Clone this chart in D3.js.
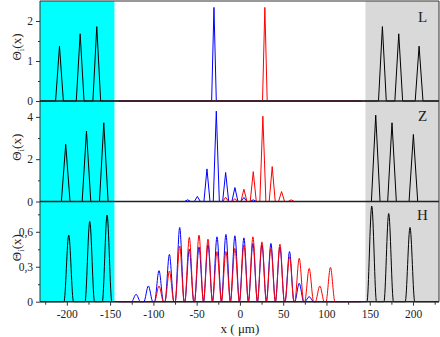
<!DOCTYPE html>
<html lang='en'>
<head>
	<meta charset='UTF-8'/>
	<title>Theta profiles L / Z / H</title>
	<script src='https://cdnjs.cloudflare.com/ajax/libs/d3/7.8.5/d3.min.js'></script>
	<style>
		body {margin: 0; background: #fff;}
		svg {display: block; font-family: 'Liberation Serif', 'Times New Roman', serif;}
	</style>
</head>
<body>
	<div class='graph'></div>
	<script>
		// peak centers (x, um) and heights
		const L_black_x = [-208.5, -184.6, -165.4, 164.6, 183.5, 207];
		const L_black_y = [1.37, 1.68, 1.86, 1.86, 1.68, 1.37];
		const L_blue_x = [-30];
		const L_blue_y = [2.34];
		const L_red_x = [28.8];
		const L_red_y = [2.34];

		const Z_black_x = [-201.3, -177.3, -157.3, 156.9, 175.7, 200.4];
		const Z_black_y = [2.70, 3.33, 3.72, 4.08, 3.72, 3.17];
		const Z_blue_x = [-60.4, -49.2, -38.1, -27.3, -16.5, -5.8, 4.6, 15.4];
		const Z_blue_y = [0.08, 0.24, 1.54, 4.27, 1.37, 0.66, 0.19, 0.08];
		const Z_red_x = [-16.5, -5.8, 4.6, 15.4, 26.5, 37.3, 48.1, 59.2];
		const Z_red_y = [0.2, 0.13, 0.58, 1.41, 4.03, 1.65, 0.47, 0.08];

		const H_black_x = [-197.8, -173.5, -153.5, 152.3, 171.9, 196.5];
		const H_black_y = [0.572, 0.689, 0.743, 0.82, 0.757, 0.637];
		const H_blue_x = [-120, -105.8, -93.5, -81.5, -69.6, -58.5, -47.3, -36.9, -26.5, -16.2,
			-5.8, 4.6, 15, 25.4, 35.8, 46.2, 57.3, 68.5, 80];
		const H_blue_y = [0.063, 0.135, 0.266, 0.406, 0.637, 0.45, 0.47, 0.49, 0.557, 0.577,
			0.566, 0.548, 0.5, 0.49, 0.5, 0.47, 0.43, 0.158, 0.043];
		const H_red_x = [-93.5, -81.5, -69.6, -58.5, -47.3, -36.9, -26.5, -16.2, -5.8, 4.6,
			15, 25.4, 35.8, 46.2, 57.3, 68.5, 80, 92.3, 104.6];
		const H_red_y = [0.135, 0.263, 0.477, 0.552, 0.571, 0.537, 0.43, 0.43, 0.457, 0.486,
			0.557, 0.514, 0.457, 0.494, 0.386, 0.372, 0.286, 0.135, 0.295];

		// axis ticks
		const xMajor = [-200, -150, -100, -50, 0, 50, 100, 150, 200];
		const xMinor = [-225, -175, -125, -75, -25, 25, 75, 125, 175, 225];
		const L_ticks = [0, 1, 2], L_minor = [0.5, 1.5];
		const Z_ticks = [0, 2, 4], Z_minor = [1, 3];
		const H_ticks = [0, 0.3, 0.6], H_minor = [0.15, 0.45, 0.75];
		const panelNames = ['L', 'Z', 'H'];

		const width = 440, height = 337;
		const left = 40, right = 439;
		const bounds = [1, 101, 201.5, 301.7];

		const svg = d3.select('.graph')
			.append('svg')
			.attr('width', width)
			.attr('height', height);

		const loc = d3.formatLocale({decimal: ',', thousands: '.', grouping: [3], currency: ['', ''], minus: '-'});
		const fmt = loc.format('~g');

		const X = d3.scaleLinear().domain([-231, 230]).range([left, right]);

		// shaded zones
		svg.append('rect')
			.attr('x', left).attr('y', bounds[0])
			.attr('width', X(-145) - left).attr('height', bounds[3] - bounds[0])
			.style('fill', '#00ffff');
		svg.append('rect')
			.attr('x', X(145)).attr('y', bounds[0])
			.attr('width', right - X(145)).attr('height', bounds[3] - bounds[0])
			.style('fill', '#d9d9d9');

		const panels = [
			{max: 2.5, ticks: L_ticks, minor: L_minor, wb: 4.5, wc: 2.7, curve: d3.curveLinear,
				series: [[L_black_x, L_black_y, '#000'], [L_blue_x, L_blue_y, '#0000ff'], [L_red_x, L_red_y, '#ff0000']]},
			{max: 4.75, ticks: Z_ticks, minor: Z_minor, wb: 5, wc: 3.5, curve: d3.curveLinear,
				series: [[Z_black_x, Z_black_y, '#000'], [Z_blue_x, Z_blue_y, '#0000ff'], [Z_red_x, Z_red_y, '#ff0000']]},
			{max: 0.86, ticks: H_ticks, minor: H_minor, wb: 5.5, wc: 5.2, curve: d3.curveMonotoneX,
				series: [[H_black_x, H_black_y, '#000'], [H_blue_x, H_blue_y, '#0000ff'], [H_red_x, H_red_y, '#ff0000']]}
		];

		// build a path through the peaks, flat at zero between them
		function peakPoints(xs, ys, w, x0, x1) {
			let pts = [[x0, 0]];
			xs.map((c, i) => [c, ys[i]])
				.sort((a, b) => a[0] - b[0])
				.forEach(p => {
					pts.push([p[0] - w, 0], [p[0], p[1]], [p[0] + w, 0]);
				});
			pts.push([x1, 0]);
			return pts;
		}

		panels.forEach((p, k) => {
			const Y = d3.scaleLinear().domain([0, p.max]).range([bounds[k + 1], bounds[k]]);
			const line = d3.line().x(d => X(d[0])).y(d => Y(d[1])).curve(p.curve);
			const g = svg.append('g');

			p.series.forEach((s, j) => {
				const w = j === 0 ? p.wb : p.wc;
				const x0 = j === 0 ? -231 : -140;
				const x1 = j === 0 ? 230 : 140;
				g.append('path')
					.attr('d', line(peakPoints(s[0], s[1], w, x0, x1)))
					.style('fill', 'none')
					.style('stroke', s[2])
					.style('stroke-width', 1);
			});

			// y axis
			const ax = svg.append('g')
				.attr('transform', 'translate(' + left + ',0)')
				.call(d3.axisLeft(Y).tickValues(p.ticks).tickSize(4).tickSizeOuter(0).tickFormat(fmt));
			ax.select('.domain').remove();
			ax.selectAll('text').attr('x', -7).style('font-family', 'Liberation Serif').style('font-size', '11.5px').style('fill', '#222');
			ax.selectAll('line').style('stroke', '#333');
			const mn = svg.append('g')
				.attr('transform', 'translate(' + left + ',0)')
				.call(d3.axisLeft(Y).tickValues(p.minor).tickSize(2).tickSizeOuter(0).tickFormat(''));
			mn.select('.domain').remove();
			mn.selectAll('line').style('stroke', '#333');

			// y title
			const cy = (bounds[k] + bounds[k + 1]) / 2 - 4;
			const t = svg.append('text')
				.attr('transform', 'translate(21,' + cy + ') rotate(-90)')
				.attr('text-anchor', 'middle')
				.style('font-size', '13px')
				.style('fill', '#222');
			t.append('tspan').text('Θ');
			t.append('tspan').text('i').attr('dy', 3).style('font-size', '9px');
			t.append('tspan').text('(x)').attr('dy', -3);

			// panel letter
			svg.append('text')
				.attr('x', 422.5)
				.attr('y', [21.7, 120.7, 220][k])
				.attr('text-anchor', 'middle')
				.style('font-size', '15px')
				.style('fill', '#222')
				.text(panelNames[k]);

			// panel bottom line
			svg.append('line')
				.attr('x1', left).attr('x2', right)
				.attr('y1', bounds[k + 1]).attr('y2', bounds[k + 1])
				.style('stroke', '#222')
				.style('stroke-width', 1.6);
		});

		// frame
		svg.append('path')
			.attr('d', 'M' + left + ',' + bounds[3] + 'V' + bounds[0] + 'H' + right + 'V' + bounds[3])
			.style('fill', 'none')
			.style('stroke', '#333')
			.style('stroke-width', 1);

		// x axis
		const xa = svg.append('g')
			.attr('transform', 'translate(0,' + bounds[3] + ')')
			.call(d3.axisBottom(X).tickValues(xMajor).tickSize(4).tickSizeOuter(0).tickFormat(fmt));
		xa.select('.domain').remove();
		xa.selectAll('text').attr('y', 8).style('font-family', 'Liberation Serif').style('font-size', '11.5px').style('fill', '#222');
		xa.selectAll('line').style('stroke', '#333');
		const xm = svg.append('g')
			.attr('transform', 'translate(0,' + bounds[3] + ')')
			.call(d3.axisBottom(X).tickValues(xMinor).tickSize(3).tickSizeOuter(0).tickFormat(''));
		xm.select('.domain').remove();
		xm.selectAll('line').style('stroke', '#333');

		svg.append('text')
			.attr('x', X(0))
			.attr('y', 332.5)
			.attr('text-anchor', 'middle')
			.style('font-size', '13px')
			.style('fill', '#222')
			.text('x ( μm)');
	</script>
</body>
</html>
